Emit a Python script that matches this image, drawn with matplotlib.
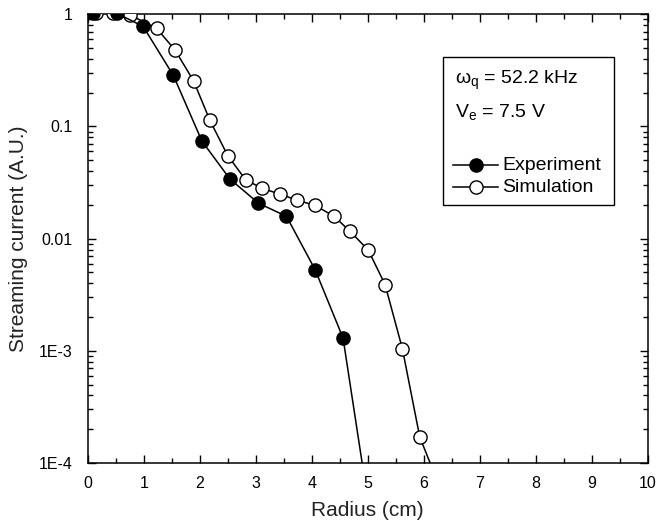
import matplotlib
matplotlib.use("Agg")
import matplotlib.pyplot as plt
from matplotlib.ticker import FixedLocator, FuncFormatter, LogLocator, NullFormatter, MultipleLocator
from matplotlib.patches import Rectangle
from matplotlib.lines import Line2D

plt.rcParams['font.family'] = ['Liberation Sans', 'DejaVu Sans']
plt.rcParams['mathtext.fontset'] = 'custom'
plt.rcParams['mathtext.rm'] = 'Liberation Sans'
plt.rcParams['mathtext.it'] = 'Liberation Sans'

# Data
exp_x = [0.1, 0.52, 0.99, 1.53, 2.04, 2.54, 3.05, 3.55, 4.06, 4.56, 5.07]
exp_y = [1.02, 1.02, 0.78, 0.285, 0.074, 0.034, 0.0207, 0.0158, 0.0053, 0.0013, 2.8e-5]

sim_x = [0.15, 0.45, 0.75, 1.23, 1.56, 1.89, 2.18, 2.5, 2.82, 3.12, 3.43, 3.74,
         4.06, 4.4, 4.68, 5.01, 5.31, 5.62, 5.93, 6.24]
sim_y = [1.02, 1.02, 0.99, 0.75, 0.48, 0.255, 0.114, 0.055, 0.0335, 0.028, 0.025, 0.022,
         0.0198, 0.0158, 0.0117, 0.0079, 0.0039, 0.00104, 1.7e-4, 7e-5]

y_ticks = [1e-4, 1e-3, 1e-2, 1e-1, 1]
y_tick_labels = ['1E-4', '1E-3', '0.01', '0.1', '1']
x_ticks = list(range(0, 11))

W, H = 657, 527
fig = plt.figure(figsize=(W / 100, H / 100), dpi=100)
ax = fig.add_axes([87.7 / W, 1 - 463 / H, (647.7 - 87.7) / W, (463 - 14.3) / H])

MS = 9.5
ax.plot(sim_x, sim_y, '-', color='black', lw=1.1, marker='o', ms=MS,
        mfc='white', mec='black', mew=1.0, zorder=3)
ax.plot(exp_x, exp_y, '-', color='black', lw=1.1, marker='o', ms=MS,
        mfc='black', mec='black', mew=1.0, zorder=4)

ax.set_yscale('log')
ax.set_xlim(0, 10)
ax.set_ylim(1e-4, 1)

ax.xaxis.set_major_locator(FixedLocator(x_ticks))
ax.xaxis.set_minor_locator(MultipleLocator(0.5))
ax.yaxis.set_major_locator(FixedLocator(y_ticks))
ax.yaxis.set_major_formatter(FuncFormatter(lambda v, p: dict(zip(y_ticks, y_tick_labels)).get(v, '')))
ax.yaxis.set_minor_locator(LogLocator(base=10, subs=range(2, 10)))
ax.yaxis.set_minor_formatter(NullFormatter())

ax.tick_params(which='both', direction='in', top=True, right=True, width=1.0, colors='black')
ax.tick_params(which='major', length=6, labelsize=11.5)
ax.tick_params(axis='y', which='major', pad=11)
ax.tick_params(axis='x', which='major', pad=9)
ax.tick_params(which='minor', length=3.5)
for s in ax.spines.values():
    s.set_linewidth(1.1)

ax.set_xlabel('Radius (cm)', fontsize=15, color='#222222')
ax.set_ylabel('Streaming current (A.U.)', fontsize=15, color='#222222')
ax.xaxis.set_label_coords(0.5, -(511 - 463) / (463 - 14.3), transform=ax.transAxes)
ax.xaxis.label.set_va('center')
ax.yaxis.set_label_coords(-(87.7 - 18) / (647.7 - 87.7), 0.5, transform=ax.transAxes)
ax.yaxis.label.set_va('center')


def fx(px):
    return px / W


def fy(py):
    return 1 - py / H


rect = Rectangle((fx(442.7), fy(205)), fx(614) - fx(442.7), fy(57.3) - fy(205),
                 transform=fig.transFigure, fill=False, lw=1.0, ec='black', zorder=5)
fig.patches.append(rect)
fig.text(fx(455), fy(80), r'$\omega_{\mathregular{q}}$ = 52.2 kHz', fontsize=14, va='center', ha='left')
fig.text(fx(455), fy(112), r'V$_{\mathregular{e}}$ = 7.5 V', fontsize=14, va='center', ha='left')

# legend entries
for yy, fc, lab in [(165, 'black', 'Experiment'), (187, 'white', 'Simulation')]:
    fig.add_artist(Line2D([fx(453), fx(498)], [fy(yy), fy(yy)], transform=fig.transFigure,
                          color='black', lw=1.1))
    fig.add_artist(Line2D([fx(475.5)], [fy(yy)], transform=fig.transFigure, marker='o',
                          ms=MS, mfc=fc, mec='black', mew=1.0, ls='none'))
    fig.text(fx(502), fy(yy), lab, fontsize=14, va='center', ha='left')

fig.savefig('out.png', dpi=100)
